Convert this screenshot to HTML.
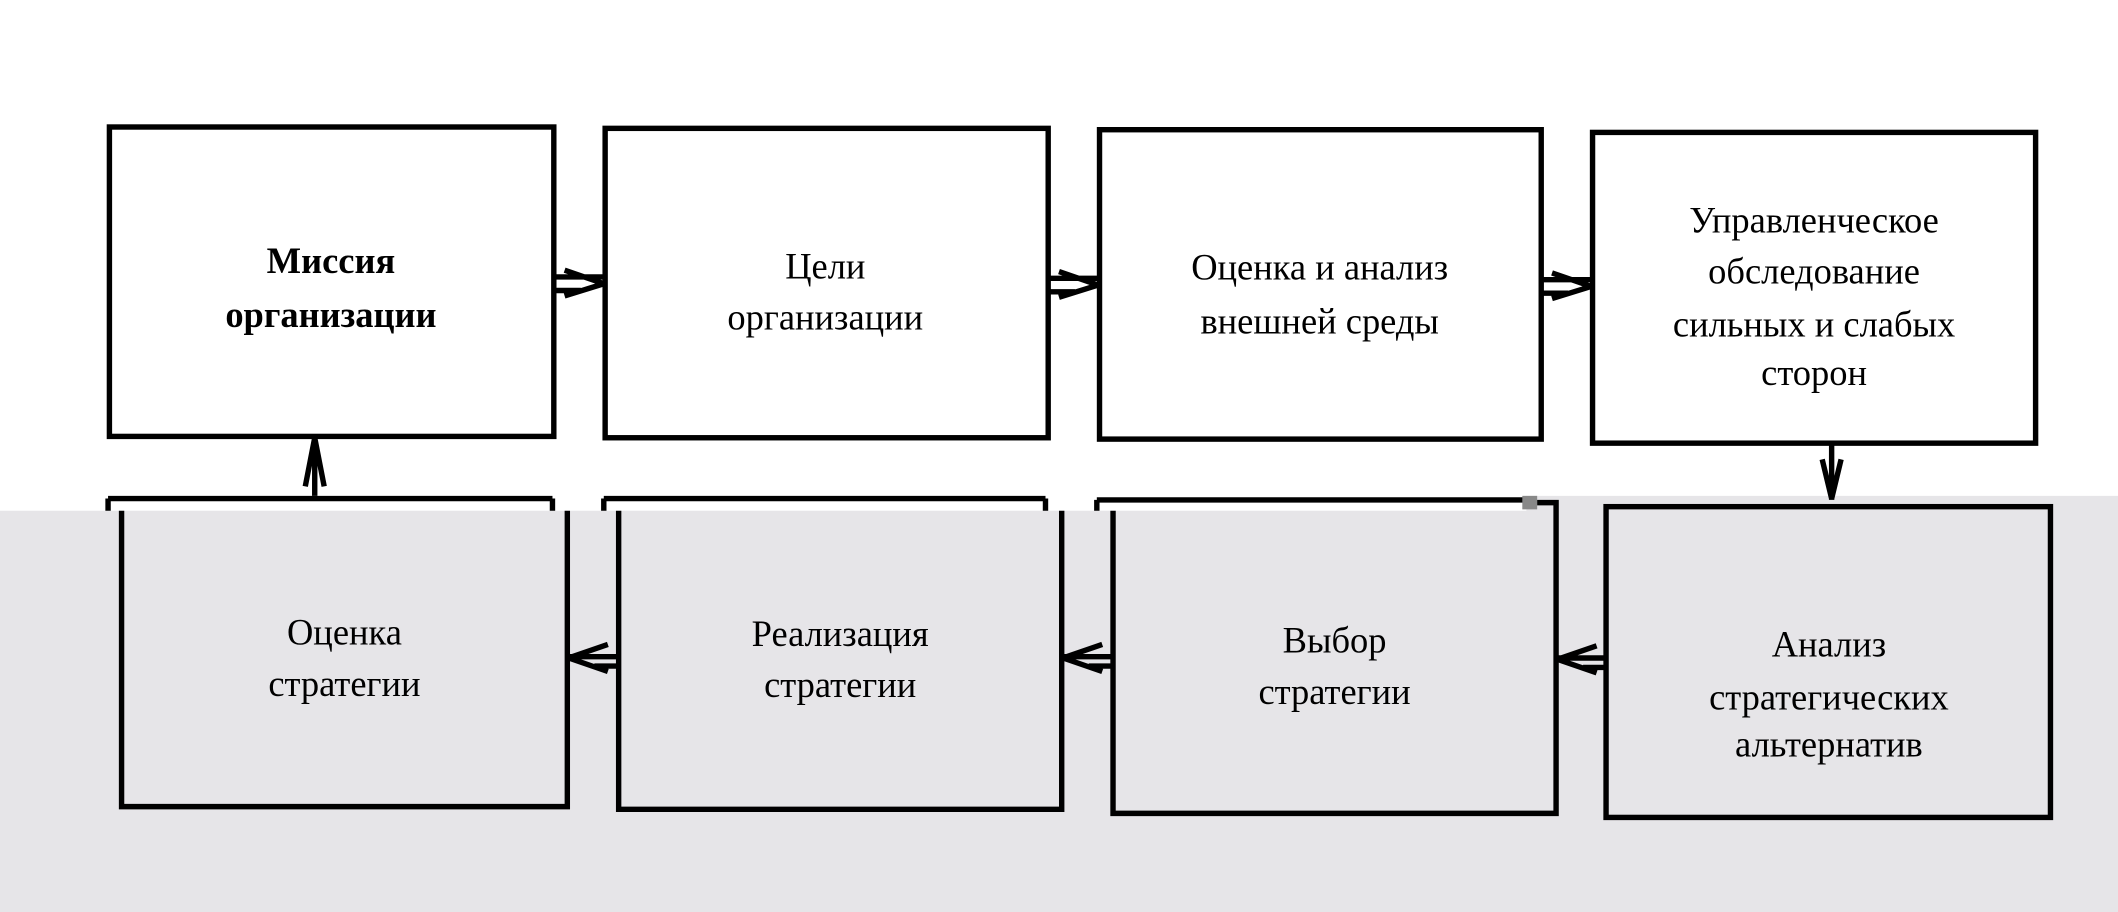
<!DOCTYPE html>
<html><head><meta charset="utf-8"><style>
html,body{margin:0;padding:0;background:#fff;}
svg{display:block;}
text{font-family:"Liberation Serif",serif;font-size:27px;fill:#000;text-anchor:middle;}
</style></head><body>
<svg width="2118" height="912" viewBox="0 0 1568 675" preserveAspectRatio="none" xmlns="http://www.w3.org/2000/svg">
<rect x="0" y="0" width="1568" height="675" fill="#fff"/>
<!-- top row -->
<g fill="none" stroke="#000" stroke-width="4">
<rect x="81" y="94" width="329" height="229"/>
<rect x="448" y="95" width="328" height="229"/>
<rect x="814" y="96" width="327" height="229"/>
<rect x="1179" y="98" width="328" height="230"/>
<!-- old bottom row top borders -->
<path d="M80 369 H409 M80 369 V380 M409 369 V380"/>
<path d="M447 369 H774 M447 369 V380 M774 369 V380"/>
<path d="M812 370 H1128 M812 370 V380"/>
</g>
<!-- gray overlay -->
<path d="M0 378 H1130 V367 H1568 V675 H0 Z" fill="#e6e5e8"/>
<rect x="1127" y="367" width="11" height="10" fill="#888"/>
<g fill="none" stroke="#000" stroke-width="4">
<path d="M90 378 V597 H420 V378"/>
<path d="M458 378 V599 H786 V378"/>
<path d="M824 378 V602 H1152 V372 H1138"/>
<rect x="1189" y="375" width="329" height="230"/>
</g>
<!-- arrows top row (pointing right) -->
<g stroke="#000" stroke-width="4" fill="none">
<path d="M411 205 H447 M411 215 H430 M447 210 L418 200 M447 210 L418 219"/>
<path d="M777 206 H813 M777 216 H796 M813 211 L784 201 M813 211 L784 220"/>
<path d="M1142 207 H1178 M1142 217 H1161 M1178 212 L1149 202 M1178 212 L1149 221"/>
<!-- bottom row arrows (pointing left) -->
<path d="M421 486 H457 M440 493 H457 M421 487 L450 477 M421 487 L450 497"/>
<path d="M787 486 H823 M806 493 H823 M787 487 L816 477 M787 487 L816 497"/>
<path d="M1153 487 H1189 M1172 494 H1189 M1153 488 L1182 478 M1153 488 L1182 498"/>
<!-- vertical -->
<path d="M233 324 V367 M233 324 L226 360 M233 324 L240 360"/>
<path d="M1356 329 V370 M1356 369 L1349 340 M1356 369 L1363 340"/>
</g>
<!-- labels -->
<text x="245" y="202" font-weight="bold">Миссия</text>
<text x="245" y="242" font-weight="bold">организации</text>
<text x="611" y="206">Цели</text>
<text x="611" y="244">организации</text>
<text x="977" y="207">Оценка и анализ</text>
<text x="977" y="247">внешней среды</text>
<text x="1343" y="172">Управленческое</text>
<text x="1343" y="210">обследование</text>
<text x="1343" y="249">сильных и слабых</text>
<text x="1343" y="285">сторон</text>
<text x="255" y="477">Оценка</text>
<text x="255" y="515">стратегии</text>
<text x="622" y="478">Реализация</text>
<text x="622" y="516">стратегии</text>
<text x="988" y="483">Выбор</text>
<text x="988" y="521">стратегии</text>
<text x="1354" y="486">Анализ</text>
<text x="1354" y="525">стратегических</text>
<text x="1354" y="560">альтернатив</text>
</svg>
</body></html>
